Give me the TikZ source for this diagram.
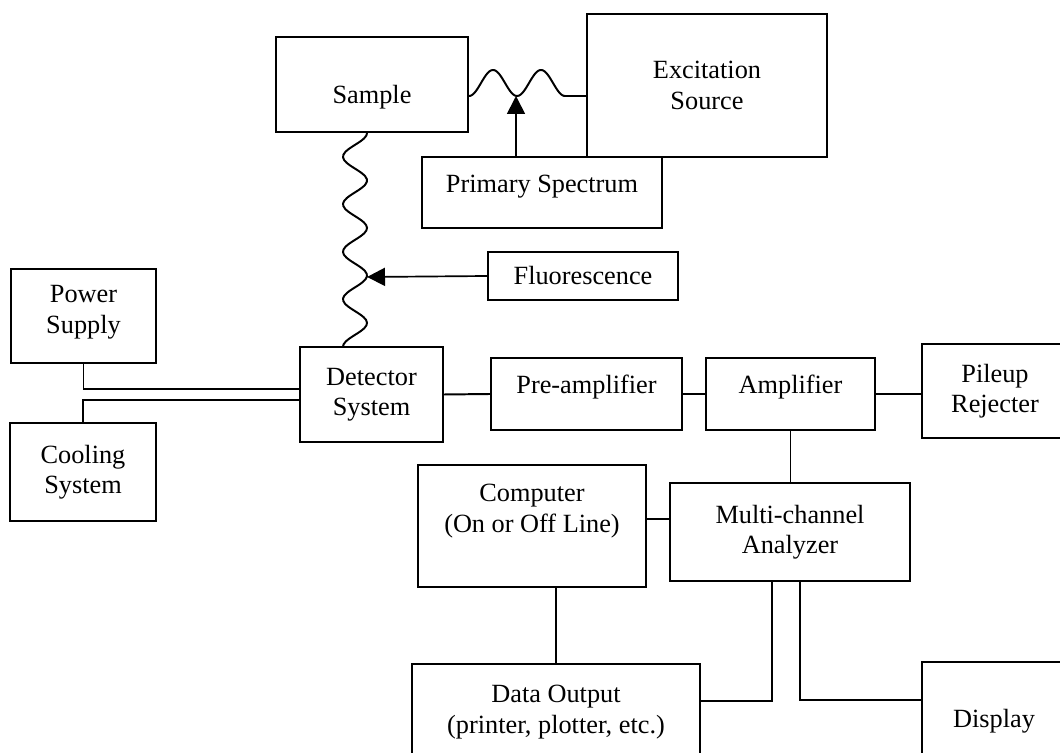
\documentclass[tikz,border=0pt]{standalone}
\usepackage{fontspec}
\setmainfont{Liberation Serif}
\usepackage{tikz}
\usetikzlibrary{arrows.meta}

\begin{document}
\begin{tikzpicture}[x=0.025cm, y=-0.025cm,
    font=\fontsize{18.7}{21.5}\selectfont,
    blockbox/.style={draw, line width=1.4pt, rectangle, align=center, inner sep=0pt},
    wire/.style={line width=1.4pt},
    waveline/.style={line width=1.4pt, smooth, samples=80},
    pointer/.style={line width=1.2pt, -{Triangle[length=0.45cm, width=0.45cm]}}]
%
\useasboundingbox (0,0) rectangle (1060,753);
\clip (0,0) rectangle (1060,753);

%
\node[blockbox, minimum width=4.8cm, minimum height=2.375cm, text height=1.1cm, text depth=0.15cm] (sample) at (372,84.5) {Sample};
\node[blockbox, minimum width=6cm, minimum height=3.575cm] (excite) at (707,85.5) {Excitation\\Source};
\node[blockbox, minimum width=6cm, minimum height=1.775cm, text height=0.15cm, text depth=0.15cm] (pspec) at (542,192.5) {Primary Spectrum};
\node[blockbox, minimum width=4.75cm, minimum height=1.2cm] (fluor) at (583,276) {Fluorescence};

%
\node[blockbox, minimum width=3.625cm, minimum height=2.35cm, text height=1.0cm, text depth=0.15cm] (power) at (83.5,316) {Power\\Supply};
\node[blockbox, minimum width=3.65cm, minimum height=2.45cm] (cooling) at (83,472) {Cooling\\System};
\node[blockbox, minimum width=3.575cm, minimum height=2.375cm] (detector) at (371.5,394.5) {Detector\\System};
\node[blockbox, minimum width=4.775cm, minimum height=1.8cm, text height=0.15cm, text depth=0.15cm] (preamp) at (586.5,394) {Pre-amplifier};
\node[blockbox, minimum width=4.225cm, minimum height=1.8cm, text height=0.15cm, text depth=0.15cm] (amp) at (790.5,394) {Amplifier};
\node[blockbox, minimum width=3.65cm, minimum height=2.35cm] (pileup) at (995,391) {Pileup\\Rejecter};

%
\node[blockbox, minimum width=5.7cm, minimum height=3.05cm, text height=0.45cm, text depth=0.15cm] (computer) at (532,526) {Computer\\(On or Off Line)};
\node[blockbox, minimum width=6cm, minimum height=2.45cm] (mca) at (790,532) {Multi-channel\\Analyzer};
\node[blockbox, minimum width=7.2cm, minimum height=2.4cm] (dataout) at (556,712) {Data Output\\(printer, plotter, etc.)};
\node[blockbox, minimum width=3.6cm, minimum height=2.95cm] (display) at (994,721) {Display};

%
\coordinate (ptip) at (516,96);
\coordinate (ftip) at (367,277);

%
\draw[waveline, shift={(sample.east)}, domain=0:96] plot (\x, {-1.5+13*cos(7.5*\x)}) -- (excite.west |- ptip);
\draw[waveline, shift={(sample.south)}, domain=0:214, variable=\t] plot ({-17+12*cos(7.5789*\t)}, \t);

\draw[pointer] (pspec.north -| ptip) -- (ptip);
\draw[pointer] (fluor.west) -- (ftip);

%
\draw[wire] (power.south) |- ([yshift=0.14cm]detector.west);
\draw[wire] (cooling.north) |- ([yshift=-0.14cm]detector.west);
\draw[wire] (detector.east) -- (preamp.west);
\draw[wire] (preamp.east) -- (amp.west);
\draw[wire] (amp.east) -- (amp.east -| pileup.west);
\draw[wire] (amp.south) -- (amp.south |- mca.north);
\draw[wire] ([yshift=0.18cm]computer.east) -- ([yshift=0.18cm]computer.east -| mca.west);
\draw[wire] (dataout.north) -- (dataout.north |- computer.south);
\draw[wire] ([xshift=-0.45cm]mca.south) |- ([yshift=0.275cm]dataout.east);
\draw[wire] ([xshift=0.25cm]mca.south) |- ([yshift=0.525cm]display.west);

\end{tikzpicture}
\end{document}
